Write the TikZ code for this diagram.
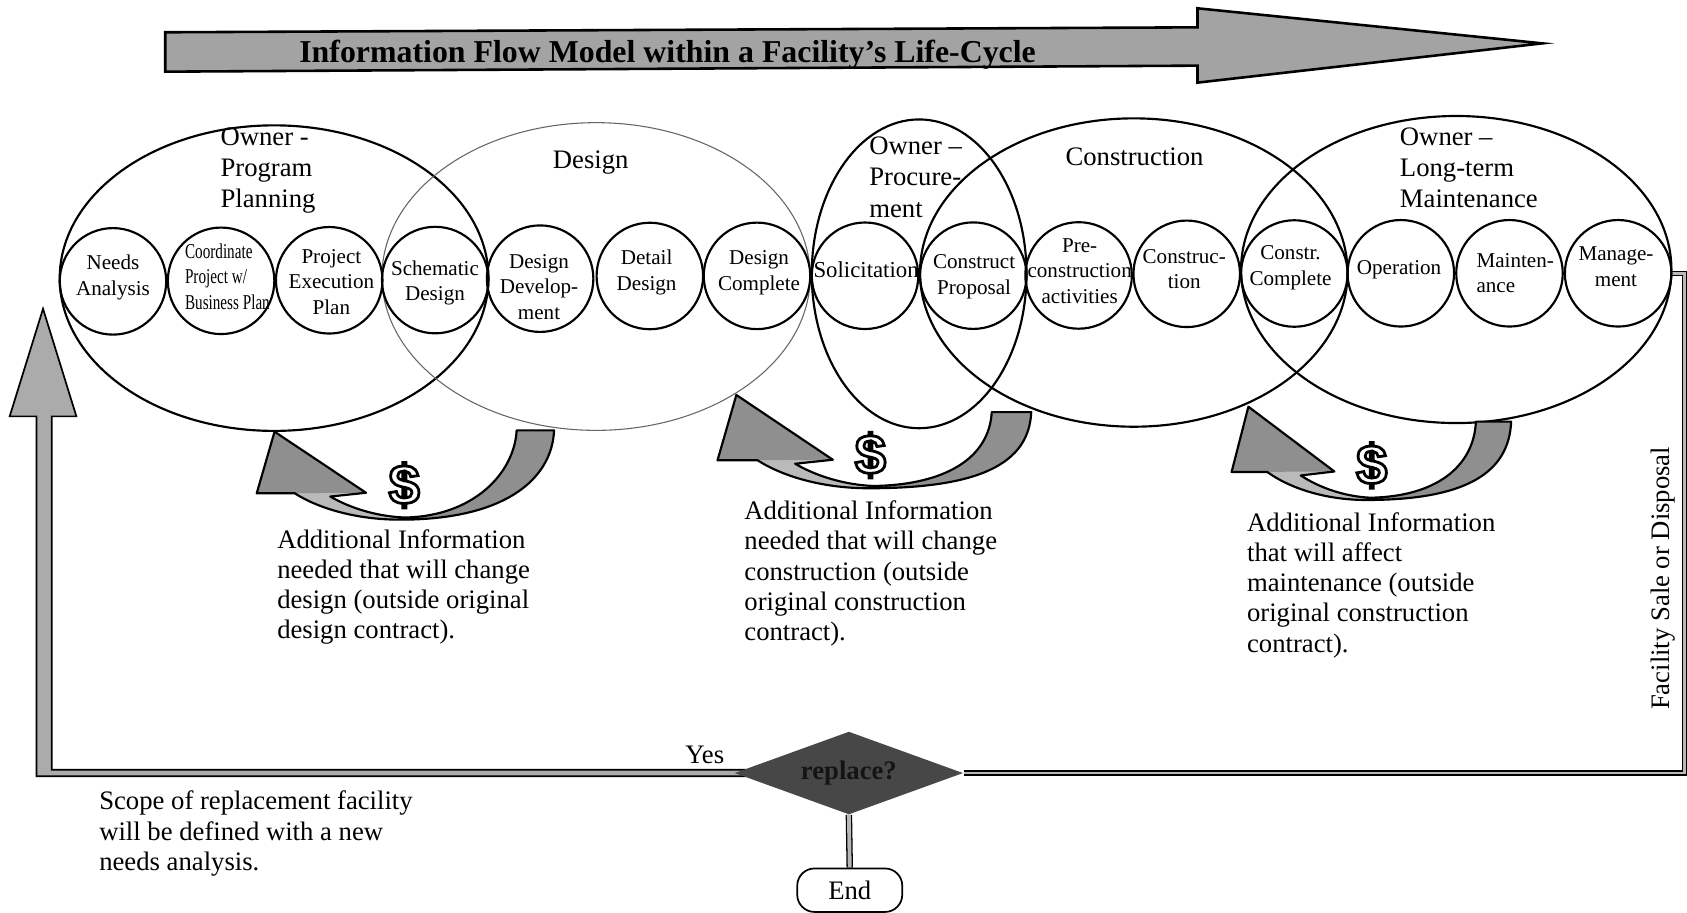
\documentclass[tikz,border=0pt]{standalone}
\usepackage{fontspec}
\setmainfont{Liberation Serif}
\setsansfont{Liberation Sans}
\usepackage{graphicx}
\usetikzlibrary{shapes.geometric,calc,backgrounds}

% Outlined glyph: white fill, black stroke (PDF text rendering mode 2)
\newcommand{\outlined}[1]{%
  \special{pdf:literal direct 2 Tr 1.3 w 0 0 0 RG}#1\special{pdf:literal direct 0 Tr}}

% Curved "additional information" arrow: tip x, tip y, x scale, y scale, tail height
\newcommand{\infoarrow}[5]{%
  \begin{scope}[shift={(#1,#2)}, xscale=#3, yscale=#4]
    \fill[black!27] (259.8,#5) .. controls (257.8,#5+45) and (214.8,81.8) .. (116.8,81.8)
      .. controls (74.8,81.8) and (39.8,70.8) .. (18.8,57.3) -- (-16.6,57.3) -- (0,0)
      -- (85,56.8) -- (51.8,60.3) .. controls (69.8,70.8) and (94.8,78.8) .. (120.8,79.8)
      .. controls (184.8,78.8) and (222.8,#5+40) .. (225,#5) -- cycle;
    \fill[black!44] (259.8,#5) .. controls (257.8,#5+45) and (214.8,81.8) .. (116.8,81.8)
      -- (120.8,79.8) .. controls (184.8,78.8) and (222.8,#5+40) .. (225,#5) -- cycle;
    \fill[black!44] (-16.6,57.3) -- (0,0) -- (85,56.8) -- cycle;
    \draw[line width=1pt, line join=round] (259.8,#5) .. controls (257.8,#5+45) and (214.8,81.8) .. (116.8,81.8)
      .. controls (74.8,81.8) and (39.8,70.8) .. (18.8,57.3) -- (-16.6,57.3) -- (0,0)
      -- (85,56.8) -- (51.8,60.3) .. controls (69.8,70.8) and (94.8,78.8) .. (120.8,79.8)
      .. controls (184.8,78.8) and (222.8,#5+40) .. (225,#5) -- cycle;
  \end{scope}}

\begin{document}
\begin{tikzpicture}[x=0.5pt, y=-0.5pt,
  phase/.style={ellipse, draw, line width=1pt, inner sep=0},
  stage/.style={circle, draw, line width=1pt, minimum size=49.5pt, inner sep=0},
  stagetext/.style={font=\fontsize{9.8}{11.9}\selectfont, align=center, inner sep=0},
  phaselabel/.style={font=\fontsize{12.4}{14.5}\selectfont, align=left, anchor=north west, inner sep=0},
  infotext/.style={font=\fontsize{12.4}{14}\selectfont, align=left, anchor=north west, inner sep=0},
  dollar/.style={font=\fontsize{26}{26}\selectfont\sffamily\bfseries, text=white, inner sep=0},
  band/.style={double=black!28, double distance=1.3pt, line width=0.6pt},
  stembar/.style={double=black!28, double distance=1.8pt, line width=0.6pt}]

\useasboundingbox (0,0) rectangle (1568,848);

% life-cycle banner arrow
\draw[fill=black!36, line width=1.2pt] (153.6,30) -- (1113,25.4) -- (1113,7.7) -- (1433.5,40.3)
  -- (1113,76.8) -- (1113,61) -- (153.6,66.6) -- cycle;
\node[font=\fontsize{14.8}{17}\selectfont\bfseries, anchor=base, inner sep=0] (title) at (620.5,58.5)
  {Information Flow Model within a Facility’s Life-Cycle};

% phases
\node[phase, minimum width=199.25pt, minimum height=142pt] (planning) at (254.75,258.5) {};
\node[phase, draw=black!60, line width=0.5pt, minimum width=199pt, minimum height=143pt] (design) at (554,257) {};
\node[phase, minimum width=99.8pt, minimum height=143.5pt] (procurement) at (854.3,254.5) {};
\node[phase, minimum width=198.7pt, minimum height=143.3pt] (construction) at (1053.8,253.3) {};
\node[phase, minimum width=200pt, minimum height=142.7pt] (longterm) at (1353.5,250.5) {};

\node[phaselabel] (lplanning) at (204.6,118.3) {Owner -\\Program\\Planning};
\node[phaselabel] (ldesign) at (513.5,140) {Design};
\node[phaselabel] (lprocure) at (807.6,127) {Owner –\\Procure-\\ment};
\node[phaselabel] (lconstr) at (990,137) {Construction};
\node[phaselabel] (llongterm) at (1300.8,118.3) {Owner –\\Long-term\\Maintenance};

% stages
\node[stage] (c0) at (105,261.5) {};
\node[stage] (c1) at (205.5,261) {};
\node[stage] (c2) at (306,260.5) {};
\node[stage] (c3) at (404.5,260.3) {};
\node[stage] (c4) at (502,259) {};
\node[stage] (c5) at (604,256.5) {};
\node[stage] (c6) at (703.6,256.4) {};
\node[stage] (c7) at (804,256.3) {};
\node[stage] (c8) at (904.6,256.2) {};
\node[stage] (c9) at (1002.5,256) {};
\node[stage] (c10) at (1103,254.5) {};
\node[stage] (c11) at (1203,254.2) {};
\node[stage] (c12) at (1302,254) {};
\node[stage] (c13) at (1403,254) {};
\node[stage] (c14) at (1504,254) {};

\node[stagetext] (t0) at (105,258) {Needs\\Analysis};
\node[stagetext, anchor=west] (t1) at (171.6,259)
  {\scalebox{0.72}[1]{\begin{tabular}{@{}l@{}}Coordinate\\Project w/\\Business Plan\end{tabular}}};
\node[stagetext] (t2) at (308,262) {Project\\Execution\\Plan};
\node[stagetext] (t3) at (404.3,263) {Schematic\\Design};
\node[stagetext] (t4) at (501,266.5) {Design\\Develop-\\ment};
\node[stagetext] (t5) at (601,253.5) {Detail\\Design};
\node[stagetext] (t6) at (705.5,253.5) {Design\\Complete};
\node[stagetext, font=\fontsize{10.6}{12}\selectfont] (t7) at (805,251) {Solicitation};
\node[stagetext] (t8) at (905.4,257.5) {Construct\\Proposal};
\node[stagetext] (t9) at (1003.5,252) {Pre-\\construction\\activities};
\node[stagetext] (t10) at (1100.7,250) {Construc-\\tion};
\node[stagetext] (t11) at (1199.5,249) {Constr.\\Complete};
\node[stagetext] (t12) at (1300.4,251) {Operation};
\node[stagetext, anchor=west, align=left] (t13) at (1372,254) {Mainten-\\ance};
\node[stagetext] (t14) at (1502,248) {Manage-\\ment};

% change-order arrows with cost markers
\infoarrow{255.2}{401.2}{1}{1}{-1.2}
\infoarrow{684.4}{367.1}{1.055}{1.06}{15}
\infoarrow{1160.3}{378}{0.94}{1.06}{13.1}
\node[dollar] (d1) at (375.7,451) {\outlined{\$}};
\node[dollar] (d2) at (809,423) {\outlined{\$}};
\node[dollar] (d3) at (1274.9,432.5) {\outlined{\$}};

\node[infotext] (n1) at (257.3,491.7) {Additional Information\\needed that will change\\design (outside original\\design contract).};
\node[infotext] (n2) at (691.5,465.3) {Additional Information\\needed that will change\\construction (outside\\original construction\\contract).};
\node[infotext] (n3) at (1158.7,476.2) {Additional Information\\that will affect\\maintenance (outside\\original construction\\contract).};

% end of life decision
\node[rotate=90, font=\fontsize{12.4}{14}\selectfont, inner sep=0] (sale) at (1545.5,537.5) {Facility Sale or Disposal};
\node[diamond, shape aspect=2.8, fill=black!72, minimum width=106.2pt, minimum height=38.5pt, inner sep=0,
  text=black!92, font=\fontsize{12.4}{14}\selectfont\bfseries] (replace) at (789,718.5) {replace?};
\node[font=\fontsize{12.4}{14}\selectfont, inner sep=0] (yes) at (655,702) {Yes};
\node[draw, line width=0.8pt, rounded corners=8pt, minimum width=48.8pt, minimum height=20.2pt,
  font=\fontsize{12.4}{14}\selectfont, inner sep=0] (end) at (789.8,827.4) {End};
\node[infotext] (newscope) at (91.9,734.9) {Scope of replacement facility\\will be defined with a new\\needs analysis.};

\coordinate (looptip) at (40,287);
\coordinate (rightrail) at (1565.5,0);
\begin{pgfonlayer}{background}
  \draw[band] (c14.east) -- (c14.east -| rightrail) |- (replace.east);
  \draw[stembar] (replace.south) -- (end.north);
  \draw[fill=black!33, line width=0.8pt] (looptip) -- ++(31,100) -- ++(-23,0)
    |- ($(replace.west)+(10,-3)$) -- ($(replace.west)+(10,3)$)
    -| ($(looptip)+(-6,100)$) -- ($(looptip)+(-31,100)$) -- cycle;
\end{pgfonlayer}
\end{tikzpicture}
\end{document}
